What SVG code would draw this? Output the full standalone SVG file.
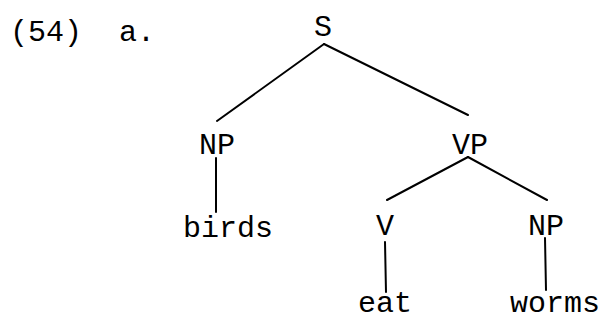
<svg xmlns="http://www.w3.org/2000/svg" width="605" height="322" viewBox="0 0 605 322">
<style>
text{font-family:"Liberation Mono","Courier New",monospace;font-size:30px;fill:#000;text-anchor:middle}
.edge{stroke:#000;stroke-width:2;fill:none;stroke-linecap:round}
</style>
<rect width="605" height="322" fill="#fff"/>
<g id="label">
<text x="10" y="41" style="text-anchor:start">(54)</text>
<text x="119" y="41" style="text-anchor:start">a.</text>
</g>
<g id="connectors">
<line class="edge" x1="324" y1="44" x2="217" y2="121"/>
<line class="edge" x1="324" y1="44" x2="468" y2="115"/>
<line class="edge" x1="216" y1="158" x2="216" y2="212"/>
<line class="edge" x1="468" y1="157" x2="387" y2="200"/>
<line class="edge" x1="468" y1="157" x2="547" y2="200"/>
<line class="edge" x1="385" y1="242" x2="386" y2="292"/>
<line class="edge" x1="545" y1="238" x2="546" y2="290"/>
</g>
<g id="node-S"><text x="323" y="36">S</text></g>
<g id="node-NP1"><text x="217" y="154">NP</text></g>
<g id="node-VP"><text x="470" y="154">VP</text></g>
<g id="node-birds"><text x="228" y="237">birds</text></g>
<g id="node-V"><text x="385" y="235">V</text></g>
<g id="node-NP2"><text x="546" y="235">NP</text></g>
<g id="node-eat"><text x="385" y="312">eat</text></g>
<g id="node-worms"><text x="555" y="312">worms</text></g>
</svg>
